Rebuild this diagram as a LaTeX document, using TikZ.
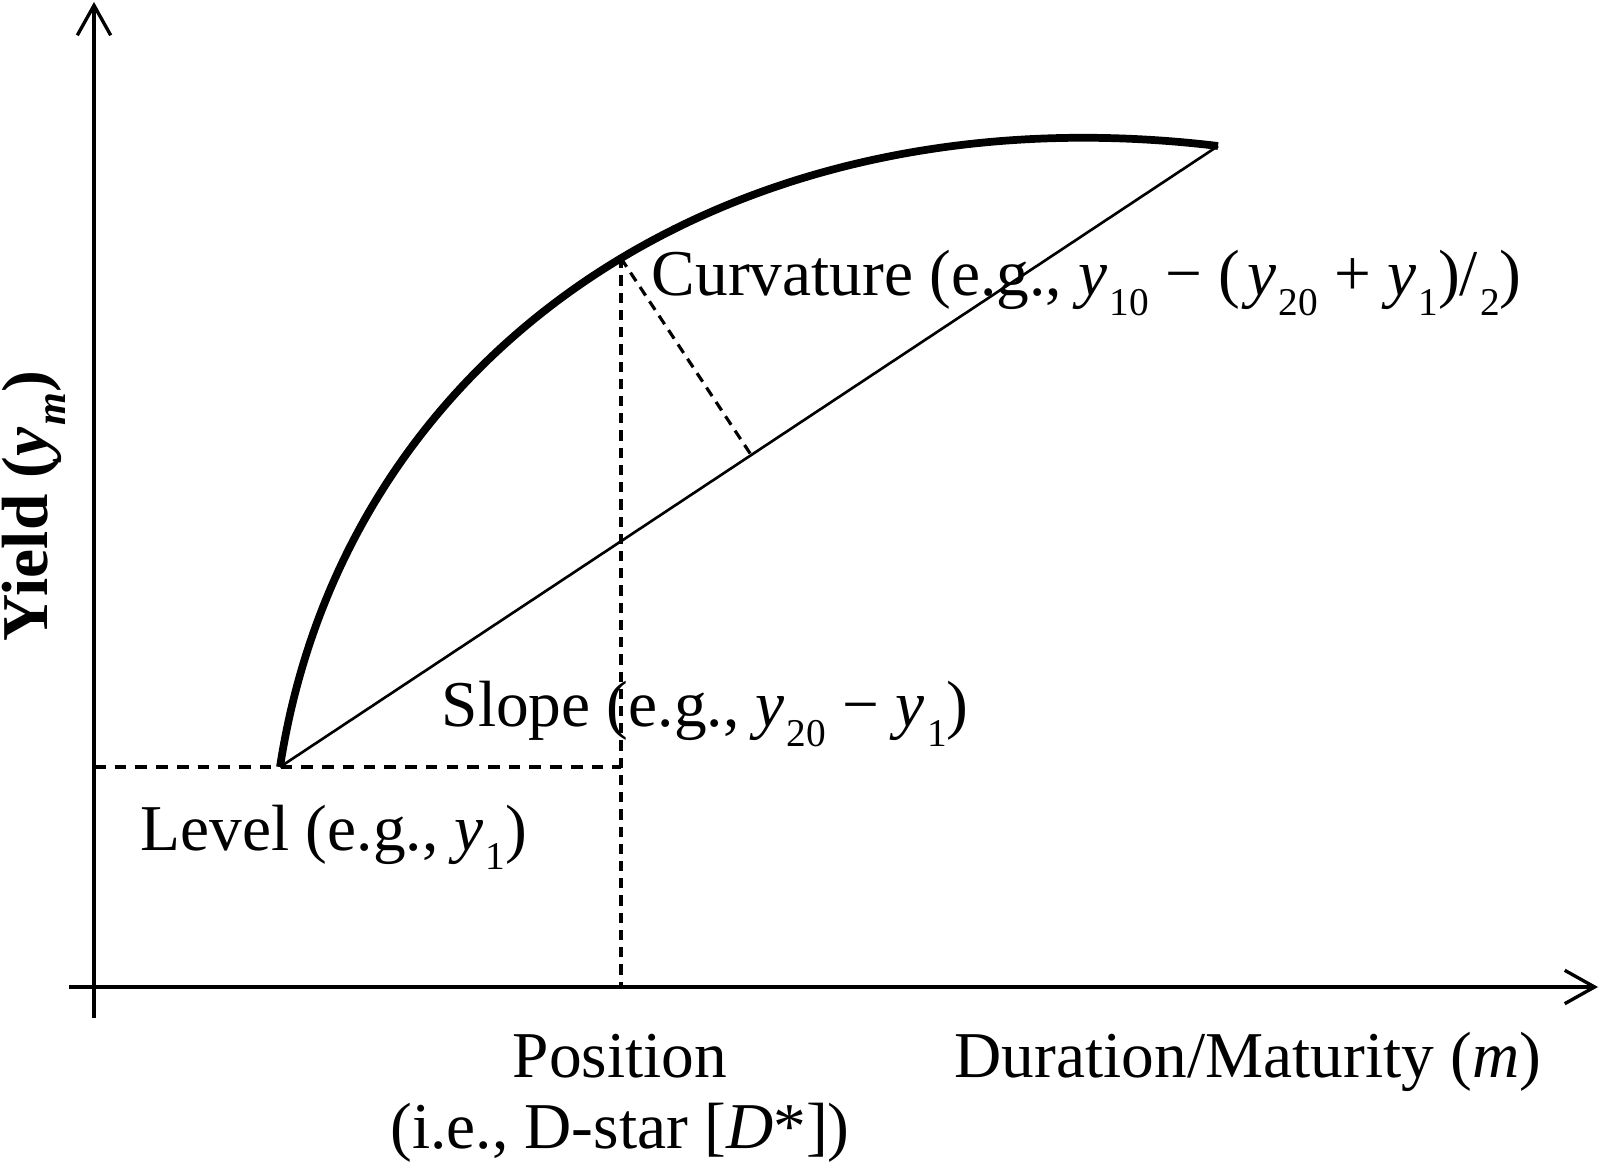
\documentclass[tikz,border=0pt]{standalone}
\usepackage{fontspec}
\setmainfont{Liberation Serif}
\usetikzlibrary{arrows.meta,calc,positioning,intersections}
\newcommand{\subs}[1]{\kern0.6pt\raisebox{-5.6pt}{\fontsize{11.2}{12}\selectfont #1}}
\tikzset{
  axis/.style={line width=0.95pt,-{Straight Barb[length=8.5pt,width=9.5pt,line width=0.95pt]}},
  yieldcurve/.style={line width=2.2pt},
  chord/.style={line width=0.75pt},
  guide/.style={line width=0.9pt,dash pattern=on 2.9pt off 2pt},
  hguide/.style={guide,dash pattern=on 3.3pt off 2.6pt},
  lbl/.style={inner sep=0pt,font=\fontsize{18.6}{20.2}\selectfont}
}

\begin{document}
\begin{tikzpicture}
\useasboundingbox (0,0) rectangle (16,11.69);

% axes
\coordinate (ybot) at (0.94,1.51);
\coordinate (ytop) at (0.94,11.67);
\coordinate (xlft) at (0.69,1.82);
\coordinate (xrgt) at (15.98,1.82);
\draw[axis] (ybot) -- (ytop);
\draw[axis] (xlft) -- (xrgt);

% yield curve and chord
\coordinate (lvl) at (2.80,4.02);
\coordinate (lng) at (12.18,10.23);
\draw[yieldcurve,name path=curve] (lvl) .. controls (3.44,8.18) and (7.28,10.82) .. (lng);
\draw[chord] (lvl) -- (lng);

% guides
\path[name path=vert] (6.21,1) -- (6.21,11.5);
\path[name intersections={of=curve and vert,by=pos}];
\coordinate (foot) at ($(lvl)!(pos)!(lng)$);
\draw[hguide] (lvl -| ybot) -- (pos |- lvl);
\draw[guide] (pos) -- (pos |- xlft);
\draw[guide] (pos) -- (foot);

% labels
\node[lbl,anchor=base west] (curv) at (6.51,8.73)
  {Curvature (e.g., \textit{y}\subs{10} − (\kern2pt\textit{y}\subs{20} + \textit{y}\subs{1})/\subs{2})};
\node[lbl,anchor=base west] (slope) at (4.41,4.42)
  {Slope (e.g., \textit{y}\subs{20} − \textit{y}\subs{1})};
\node[lbl,anchor=base west] (level) at (1.40,3.19)
  {Level (e.g., \textit{y}\subs{1})};
\node[lbl,anchor=base] (posn) at (6.20,0.92) {Position};
\node[lbl,below=7.1mm of posn.base,anchor=base] (dstar) {(i.e., D-star [\textit{D}*])};
\node[lbl,anchor=base west] (dur) at (9.54,0.92)
  {Duration/Maturity (\textit{m})};
\node[lbl,anchor=base,rotate=90] (yld) at (0.48,6.63)
  {\bfseries Yield (\textit{y}\kern0.5pt\raisebox{-5pt}{\fontsize{12}{13}\selectfont\textit{m}})};

\end{tikzpicture}
\end{document}
